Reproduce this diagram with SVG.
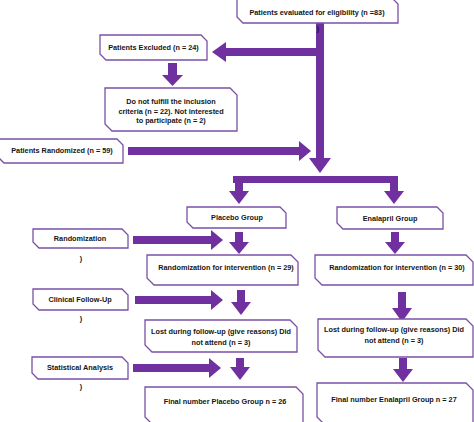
<svg xmlns="http://www.w3.org/2000/svg" width="474" height="422" viewBox="0 0 474 422">
<defs>
<style>
.box{fill:#ffffff;stroke:#7a50a6;stroke-width:1.3}
.arr{fill:#7030a0}
text{font-family:"Liberation Sans",Arial,sans-serif;font-weight:bold;font-size:7.3px;fill:#151515;text-anchor:middle}
</style>
</defs>
<rect width="474" height="422" fill="#ffffff"/>
<g id="connectors" class="arr">
<rect x="316" y="22" width="8" height="136"/>
<polygon points="309,158 331,158 320,173"/>
<rect x="225" y="48" width="91" height="8"/>
<polygon points="226,42 226,62 212,52"/>
<rect x="168" y="63" width="9" height="12"/>
<polygon points="162,75 183,75 172.5,86"/>
<rect x="128" y="147" width="172" height="8"/>
<polygon points="299,141 299,161 311,151"/>
<rect x="233" y="176" width="165" height="7"/>
<rect x="235" y="183" width="8" height="9"/>
<polygon points="229,191 249,191 239,204"/>
<rect x="390" y="183" width="8" height="9"/>
<polygon points="384,191 404,191 394,204"/>
<rect x="235" y="232" width="8" height="11"/>
<polygon points="229,242 249,242 239,254"/>
<rect x="391" y="232" width="8" height="11"/>
<polygon points="385,242 405,242 395,254"/>
<rect x="133" y="236" width="79" height="8"/>
<polygon points="211,230 211,250 223,240"/>
<rect x="237" y="290" width="8" height="13"/>
<polygon points="231,302 251,302 241,315"/>
<rect x="398" y="292" width="8" height="17"/>
<polygon points="392,308 412,308 402,322"/>
<rect x="135" y="296" width="77" height="8"/>
<polygon points="211,290 211,310 223,300"/>
<rect x="236" y="358" width="8" height="10"/>
<polygon points="230,367 250,367 240,380"/>
<rect x="399" y="358" width="8" height="12"/>
<polygon points="393,369 413,369 403,382"/>
<rect x="133" y="364" width="77" height="8"/>
<polygon points="209,358 209,378 221,368"/>
</g>
<g id="n-eligibility">
<path class="box" d="M237,-4 H390 L398,4 V23 H243 L237,17 Z"/>
<text x="317" y="15">Patients evaluated for eligibility (n =83)</text>
<text x="318" y="31">)</text>
</g>
<g id="n-excluded">
<path class="box" d="M100,35 H201 L207,41 V60 H106 L100,54 Z"/>
<text x="153.5" y="50">Patients Excluded (n = 24)</text>
</g>
<g id="n-notfulfill">
<path class="box" d="M105,88 H230 L237,95 V131 H112 L105,124 Z"/>
<text x="171" y="104">Do not fulfill the inclusion</text>
<text x="171" y="113.5">criteria (n = 22). Not interested</text>
<text x="171" y="123">to participate (n = 2)</text>
</g>
<g id="n-randomized">
<path class="box" d="M-2,139 H117 L123,145 V163 H4 L-2,157 Z"/>
<text x="62" y="153">Patients Randomized (n = 59)</text>
</g>
<g id="n-placebo">
<path class="box" d="M187,207 H280 L286,213 V228 H193 L187,222 Z"/>
<text x="237" y="220">Placebo Group</text>
</g>
<g id="n-enalapril">
<path class="box" d="M337,207 H437 L443,213 V229 H343 L337,223 Z"/>
<text x="390" y="221">Enalapril Group</text>
</g>
<g id="n-randomization">
<path class="box" d="M33,229 H122 L128,235 V248 H39 L33,242 Z"/>
<text x="80" y="241">Randomization</text>
<text x="81" y="261">)</text>
</g>
<g id="n-rand-placebo">
<path class="box" d="M147,255 H291 L298,262 V285 H154 L147,278 Z"/>
<text x="226" y="270">Randomization for intervention (n = 29)</text>
</g>
<g id="n-rand-enalapril">
<path class="box" d="M315,255 H466 L473,262 V285 H322 L315,278 Z"/>
<text x="397" y="270">Randomization for intervention (n = 30)</text>
</g>
<g id="n-followup">
<path class="box" d="M33,289 H122 L128,295 V310 H39 L33,304 Z"/>
<text x="80" y="302">Clinical Follow-Up</text>
<text x="81" y="321">)</text>
</g>
<g id="n-lost-placebo">
<path class="box" d="M145,320 H290 L297,327 V352 H152 L145,345 Z"/>
<text x="221" y="334">Lost during follow-up (give reasons) Did</text>
<text x="221" y="345">not attend (n = 3)</text>
</g>
<g id="n-lost-enalapril">
<path class="box" d="M318,319 H466 L473,326 V357 H325 L318,350 Z"/>
<text x="394" y="332">Lost during follow-up (give reasons) Did</text>
<text x="394" y="343">not attend (n = 3)</text>
</g>
<g id="n-statistical">
<path class="box" d="M32,357 H122 L128,363 V379 H38 L32,373 Z"/>
<text x="80" y="370">Statistical Analysis</text>
<text x="81" y="389">)</text>
</g>
<g id="n-final-placebo">
<path class="box" d="M145,387 H296 L303,394 V424 H152 L145,417 Z"/>
<text x="225" y="404">Final number Placebo Group n = 26</text>
</g>
<g id="n-final-enalapril">
<path class="box" d="M317,383 H466 L473,390 V424 H324 L317,417 Z"/>
<text x="394" y="402">Final number Enalapril Group n = 27</text>
</g>
</svg>
